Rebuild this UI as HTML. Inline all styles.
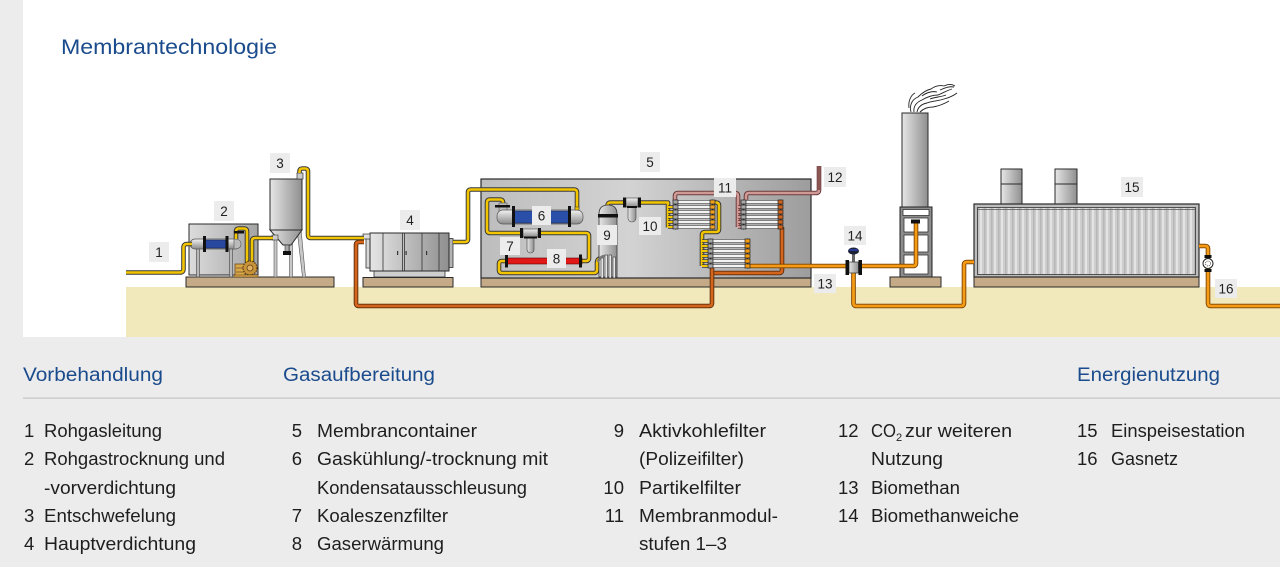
<!DOCTYPE html>
<html><head><meta charset="utf-8">
<style>
html,body{margin:0;padding:0;background:#ececec;}
svg{display:block;}
text{font-family:"Liberation Sans",sans-serif;}
.po{fill:none;stroke:#3a3a3a;stroke-width:4.6;stroke-linejoin:round}
.py{fill:none;stroke:#f2c500;stroke-width:2.6;stroke-linejoin:round}
.pp{fill:none;stroke:#cf9a96;stroke-width:2.6;stroke-linejoin:round}
.ppo{fill:none;stroke:#6b3c3c;stroke-width:4.6;stroke-linejoin:round}
.oo{fill:none;stroke:#7a4200;stroke-width:4.6;stroke-linejoin:round}
.of{fill:none;stroke:#f59b15;stroke-width:2.8;stroke-linejoin:round}
.do{fill:none;stroke:#5a2a08;stroke-width:4.6;stroke-linejoin:round}
.df{fill:none;stroke:#d4651c;stroke-width:2.8;stroke-linejoin:round}
.so{fill:none;stroke:#3a3a3a;stroke-width:3.6}
.sy{fill:none;stroke:#f2c500;stroke-width:2}
.spo{fill:none;stroke:#6b3c3c;stroke-width:3.6}
.spf{fill:none;stroke:#cf9a96;stroke-width:2}
.base{fill:#c4aa87;stroke:#2a2a2a;stroke-width:1}
.lb{fill:#ececec}
.lt{font-size:13.5px;fill:#222;text-anchor:middle}
.h{font-size:19px;fill:#1a4b8c}
.t{font-size:18.5px;fill:#1e1e1e}
.e{text-anchor:end}
</style></head><body>
<svg width="1280" height="567" viewBox="0 0 1280 567" xmlns="http://www.w3.org/2000/svg">
<defs>
 <linearGradient id="gh" x1="0" y1="0" x2="1" y2="0"><stop offset="0" stop-color="#e6e6e6"/><stop offset="1" stop-color="#8f8f8f"/></linearGradient>
 <linearGradient id="gb" x1="0" y1="0" x2="1" y2="0"><stop offset="0" stop-color="#dcdcdc"/><stop offset="1" stop-color="#a4a4a4"/></linearGradient>
 <linearGradient id="gc" x1="0" y1="0" x2="1" y2="0"><stop offset="0" stop-color="#bdbdbd"/><stop offset=".45" stop-color="#d3d3d3"/><stop offset="1" stop-color="#9d9d9d"/></linearGradient>
 <linearGradient id="gv" x1="0" y1="0" x2="0" y2="1"><stop offset="0" stop-color="#f2f2f2"/><stop offset="1" stop-color="#8a8a8a"/></linearGradient>
 <pattern id="corr" width="7" height="10" patternUnits="userSpaceOnUse"><rect width="7" height="10" fill="#cdcdcd"/><rect x="0" width="2" height="10" fill="#e4e4e4"/><rect x="4" width="1.5" height="10" fill="#b6b6b6"/></pattern>
 <g id="mod">
  <rect x="4" y="-1.7" width="34" height="3.4" fill="#f4f4f4" stroke="#333" stroke-width=".6"/>
  <rect x="4" y="3.3" width="34" height="3.4" fill="#f4f4f4" stroke="#333" stroke-width=".6"/>
  <rect x="4" y="8.3" width="34" height="3.4" fill="#f4f4f4" stroke="#333" stroke-width=".6"/>
  <rect x="4" y="13.3" width="34" height="3.4" fill="#f4f4f4" stroke="#333" stroke-width=".6"/>
  <rect x="4" y="18.3" width="34" height="3.4" fill="#f4f4f4" stroke="#333" stroke-width=".6"/>
  <rect x="4" y="23.3" width="34" height="3.4" fill="#f4f4f4" stroke="#333" stroke-width=".6"/>
  <line x1="2.5" y1="-2.5" x2="2.5" y2="27.5" stroke="#222" stroke-width="1"/>
  <line x1="39.5" y1="-2.5" x2="39.5" y2="27.5" stroke="#222" stroke-width="1"/>
  <rect x="0" y="-2" width="5" height="4" fill="#a8a8a8" stroke="#222" stroke-width=".7"/>
  <rect x="0" y="3" width="5" height="4" fill="#a8a8a8" stroke="#222" stroke-width=".7"/>
  <rect x="0" y="8" width="5" height="4" fill="#a8a8a8" stroke="#222" stroke-width=".7"/>
  <rect x="0" y="13" width="5" height="4" fill="#a8a8a8" stroke="#222" stroke-width=".7"/>
  <rect x="0" y="18" width="5" height="4" fill="#a8a8a8" stroke="#222" stroke-width=".7"/>
  <rect x="0" y="23" width="5" height="4" fill="#a8a8a8" stroke="#222" stroke-width=".7"/>
  <rect x="37" y="-2" width="5" height="4" fill="currentColor" stroke="#222" stroke-width=".7"/>
  <rect x="37" y="3" width="5" height="4" fill="currentColor" stroke="#222" stroke-width=".7"/>
  <rect x="37" y="8" width="5" height="4" fill="currentColor" stroke="#222" stroke-width=".7"/>
  <rect x="37" y="13" width="5" height="4" fill="currentColor" stroke="#222" stroke-width=".7"/>
  <rect x="37" y="18" width="5" height="4" fill="currentColor" stroke="#222" stroke-width=".7"/>
  <rect x="37" y="23" width="5" height="4" fill="currentColor" stroke="#222" stroke-width=".7"/>
 </g>
</defs>

<!-- backgrounds -->
<rect width="1280" height="567" fill="#ececec"/>
<rect x="23" y="0" width="1257" height="337" fill="#ffffff"/>
<rect x="126" y="287" width="1154" height="50" fill="#f1e9bb"/>

<text x="61" y="54" font-size="21" fill="#1a4b8c" textLength="216" lengthAdjust="spacingAndGlyphs">Membrantechnologie</text>

<!-- bases -->
<rect class="base" x="186" y="277" width="148" height="10"/>
<rect class="base" x="363" y="277.5" width="90" height="9.5"/>
<rect class="base" x="481" y="278" width="330" height="9"/>
<rect class="base" x="890" y="277" width="51" height="10"/>
<rect class="base" x="974" y="277" width="225" height="10"/>

<!-- item 2 -->
<rect x="189" y="224" width="69" height="51" fill="url(#gb)" stroke="#2a2a2a" stroke-width="1"/>
<rect x="196.5" y="248" width="3" height="29" fill="#b8b8b8" stroke="#444" stroke-width=".6"/>
<rect x="229.5" y="248" width="3" height="29" fill="#b8b8b8" stroke="#444" stroke-width=".6"/>
<rect x="190" y="239" width="50" height="10" rx="5" fill="url(#gv)" stroke="#555" stroke-width=".7"/>
<path d="M234,239 Q241,239 241,244 Q241,249 234,249 Z" fill="#bbb" stroke="#555" stroke-width=".6"/>
<rect x="205" y="240" width="22" height="8" fill="#2848a0" stroke="#1a2a5a" stroke-width=".6"/>
<rect x="203" y="236" width="3" height="16" fill="#111"/>
<rect x="225.5" y="236" width="3" height="16" fill="#111"/>

<!-- item 3 silo -->
<rect x="274" y="229" width="3" height="48" fill="#c8c8c8" stroke="#555" stroke-width=".6"/>
<rect x="289.5" y="240" width="3" height="37" fill="#c8c8c8" stroke="#555" stroke-width=".6"/>
<path d="M297,229 L301,229 L305.5,277 L302.5,277 Z" fill="#c8c8c8" stroke="#555" stroke-width=".6"/>
<rect x="270" y="179" width="32" height="51" fill="url(#gh)" stroke="#2a2a2a" stroke-width="1"/>
<path d="M270,230 L302,230 L291,245 L283,245 Z" fill="url(#gh)" stroke="#2a2a2a" stroke-width="1"/>
<rect x="285" y="245" width="4" height="7" fill="#aaa" stroke="#333" stroke-width=".6"/>
<rect x="283" y="251" width="8" height="4" fill="#111"/>
<rect x="297" y="173" width="6" height="6" fill="#ccc" stroke="#333" stroke-width=".7"/>
<rect x="272" y="235" width="6" height="5" fill="#ccc" stroke="#333" stroke-width=".6"/>

<!-- item 4 -->
<rect x="374" y="271" width="71" height="6" fill="#cfcfcf" stroke="#333" stroke-width=".8"/>
<rect x="366" y="236" width="4" height="32" fill="#d8d8d8" stroke="#333" stroke-width=".8"/>
<rect x="449" y="238.5" width="4" height="29" fill="#b4b4b4" stroke="#333" stroke-width=".8"/>
<rect x="370" y="233" width="79" height="38" fill="url(#gh)" stroke="#2a2a2a" stroke-width="1"/>
<rect x="363" y="234" width="7" height="5" fill="#ddd" stroke="#333" stroke-width=".7"/>
<g stroke="#333" stroke-width=".8">
<line x1="383" y1="233" x2="383" y2="271"/><line x1="402.5" y1="233" x2="402.5" y2="271"/><line x1="404.5" y1="233" x2="404.5" y2="271"/><line x1="422" y1="233" x2="422" y2="271"/><line x1="439" y1="233" x2="439" y2="271"/>
</g>
<g fill="#333"><rect x="397" y="251" width="1.2" height="4"/><rect x="405.5" y="251" width="1.2" height="4"/><rect x="426" y="251" width="1.2" height="4"/></g>

<!-- container 5 -->
<rect x="481" y="179" width="330" height="99" fill="url(#gc)" stroke="#2a2a2a" stroke-width="1.2"/>

<!-- chimney -->
<rect x="902" y="113" width="26" height="95" fill="url(#gh)" stroke="#2a2a2a" stroke-width="1"/>
<rect x="900" y="207" width="32" height="70" fill="#8c8c8c" stroke="#222" stroke-width="1"/>
<rect x="903" y="209.5" width="26" height="6" fill="#fff" stroke="#333" stroke-width=".8"/>
<rect x="904" y="218" width="24" height="14" fill="#fff" stroke="#333" stroke-width=".8"/>
<rect x="904" y="235" width="24" height="17" fill="#fff" stroke="#333" stroke-width=".8"/>
<rect x="904" y="255" width="24" height="19" fill="#fff" stroke="#333" stroke-width=".8"/>
<g fill="none" stroke="#222" stroke-width="0.9">
<path d="M911,112 C909,104 913,99 918,97 C922,93 926,90 931,89 C935,86 940,85 944,86"/>
<path d="M914,112 C913,106 917,102 922,100 C927,97 932,95 938,95 C943,93 948,90 952,89"/>
<path d="M917,112 C918,107 922,104 927,103 C932,101 938,101 944,99 C948,98 953,96 957,93"/>
<path d="M920,112 C923,109 928,107 933,107 C939,106 944,104 949,101"/>
<path d="M922,96 C927,92 933,91 937,92 M930,99 C935,97 941,97 946,95 M940,90 C945,88 949,86 954,87"/>
<path d="M909,108 C908,101 911,95 915,93 M944,86 C948,84 952,84 955,86"/>
</g>

<!-- container 15 -->
<rect x="1001" y="169" width="21" height="35" fill="url(#gh)" stroke="#2a2a2a" stroke-width="1"/>
<line x1="1001" y1="184" x2="1022" y2="184" stroke="#2a2a2a" stroke-width=".9"/>
<rect x="1055" y="169" width="22" height="35" fill="url(#gh)" stroke="#2a2a2a" stroke-width="1"/>
<line x1="1055" y1="184" x2="1077" y2="184" stroke="#2a2a2a" stroke-width=".9"/>
<rect x="974" y="204" width="225" height="73" fill="#bdbdbd" stroke="#2a2a2a" stroke-width="1.2"/>
<rect x="977.5" y="207.5" width="218" height="67" fill="url(#corr)" stroke="#333" stroke-width=".8"/>
<line x1="977" y1="209.5" x2="1196" y2="209.5" stroke="#555" stroke-width=".8"/>

<!-- pipes: yellow -->
<g>
<path class="po" d="M126,272.5 H180 Q183.5,272.5 183.5,269 V247.5 Q183.5,244 187,244 H192"/>
<path class="py" d="M126,272.5 H180 Q183.5,272.5 183.5,269 V247.5 Q183.5,244 187,244 H192"/>
<path class="po" d="M236,239 V231.5 Q236,228.5 239,228.5 H244 Q247,228.5 247,231.5 V263"/>
<path class="py" d="M236,239 V231.5 Q236,228.5 239,228.5 H244 Q247,228.5 247,231.5 V263"/>
<path class="po" d="M252,263 V241 Q252,238 255,238 H273"/>
<path class="py" d="M252,263 V241 Q252,238 255,238 H273"/>
<path class="po" d="M299.5,173 V171.5 Q299.5,168.5 302.5,168.5 H305 Q308,168.5 308,171.5 V235 Q308,238 311,238 H364"/>
<path class="py" d="M299.5,173 V171.5 Q299.5,168.5 302.5,168.5 H305 Q308,168.5 308,171.5 V235 Q308,238 311,238 H364"/>
<path class="po" d="M453,242 H465 Q468,242 468,239 V192.5 Q468,189.5 471,189.5 H574 Q577,189.5 577,192.5 V209"/>
<path class="py" d="M453,242 H465 Q468,242 468,239 V192.5 Q468,189.5 471,189.5 H574 Q577,189.5 577,192.5 V209"/>
<path class="po" d="M503,206 V202.5 Q503,199.5 500,199.5 H490 Q487,199.5 487,202.5 V230 Q487,233 490,233 H586 Q589,233 589,236 V258 Q589,261 586,261 H582"/>
<path class="py" d="M503,206 V202.5 Q503,199.5 500,199.5 H490 Q487,199.5 487,202.5 V230 Q487,233 490,233 H586 Q589,233 589,236 V258 Q589,261 586,261 H582"/>
<path class="po" d="M506,261 H502 Q499,261 499,264 V270 Q499,273 502,273 H594 Q597,273 597,270 V263 Q597,259 601,258"/>
<path class="py" d="M506,261 H502 Q499,261 499,264 V270 Q499,273 502,273 H594 Q597,273 597,270 V263 Q597,259 601,258"/>
<path class="po" d="M607.5,206 Q607.5,202.5 610.5,202.5 H668 V227.5"/>
<path class="py" d="M607.5,206 Q607.5,202.5 610.5,202.5 H668 V227.5"/>
<path class="so" d="M668,207 H673 M668,212 H673 M668,217 H673 M668,222 H673 M668,227 H673"/>
<path class="sy" d="M668,207 H673 M668,212 H673 M668,217 H673 M668,222 H673 M668,227 H673"/>
<path class="po" d="M714,202.5 H716 Q719,202.5 719,205.5 V229 Q719,232 716,232 H705 Q702,232 702,235 V266"/>
<path class="py" d="M714,202.5 H716 Q719,202.5 719,205.5 V229 Q719,232 716,232 H705 Q702,232 702,235 V266"/>
<path class="so" d="M702,241 H708 M702,246 H708 M702,251 H708 M702,256 H708 M702,261 H708 M702,266 H708"/>
<path class="sy" d="M702,241 H708 M702,246 H708 M702,251 H708 M702,256 H708 M702,261 H708 M702,266 H708"/>
</g>

<!-- pink pipes -->
<path class="ppo" d="M675,201 V196 Q675,193 678,193 H735 Q738,193 738,196 V227"/>
<path class="pp" d="M675,201 V196 Q675,193 678,193 H735 Q738,193 738,196 V227"/>
<path class="spo" d="M738,207 H741 M738,212 H741 M738,217 H741 M738,222 H741 M738,227 H741"/>
<path class="spf" d="M738,207 H741 M738,212 H741 M738,217 H741 M738,222 H741 M738,227 H741"/>
<path class="ppo" d="M746,201 V196 Q746,193 749,193 H816 Q819,193 819,190 V166"/>
<path class="pp" d="M746,201 V196 Q746,193 749,193 H816 Q819,193 819,190 V166"/>
<path d="M819,190 V166" fill="none" stroke="#8d5652" stroke-width="2.6"/>

<!-- dark orange -->
<path class="do" d="M782,227 V270 Q782,273 779,273 H715 Q712,273 712,276 V303 Q712,306 709,306 H359 Q356,306 356,303 V245 Q356,242 359,242 H364"/>
<path class="df" d="M782,227 V270 Q782,273 779,273 H715 Q712,273 712,276 V303 Q712,306 709,306 H359 Q356,306 356,303 V245 Q356,242 359,242 H364"/>
<path class="do" d="M712,266 V275"/><path class="df" d="M712,266 V275"/>

<!-- bright orange -->
<path class="oo" d="M749,266 H913 Q916,266 916,263 V223"/>
<path class="of" d="M749,266 H913 Q916,266 916,263 V223"/>
<path class="oo" d="M853.5,272 V303 Q853.5,306 856.5,306 H961 Q964,306 964,303 V265 Q964,262 967,262 H974"/>
<path class="of" d="M853.5,272 V303 Q853.5,306 856.5,306 H961 Q964,306 964,303 V265 Q964,262 967,262 H974"/>
<path class="oo" d="M1199,246 H1205 Q1208,246 1208,249 V303 Q1208,306 1211,306 H1280"/>
<path class="of" d="M1199,246 H1205 Q1208,246 1208,249 V303 Q1208,306 1211,306 H1280"/>
<rect x="911" y="219.5" width="9" height="4" fill="#111"/>

<!-- membrane modules -->
<use href="#mod" x="673" y="202" color="#f0a020"/>
<use href="#mod" x="741" y="202" color="#d0621b"/>
<use href="#mod" x="708" y="241" color="#f39c12"/>

<!-- item 2 gear / details -->
<rect x="234" y="231" width="10" height="2.5" fill="#111"/>
<rect x="235" y="264" width="10" height="12" fill="#d9a84a" stroke="#5a3a10" stroke-width=".7"/>
<line x1="236" y1="268" x2="244" y2="268" stroke="#5a3a10" stroke-width=".6"/>
<line x1="236" y1="272" x2="244" y2="272" stroke="#5a3a10" stroke-width=".6"/>
<circle cx="250" cy="268" r="7" fill="#c8943a" stroke="#5a3a10" stroke-width="1.2" stroke-dasharray="1.5 1"/>
<circle cx="250" cy="268" r="3" fill="#e0b060" stroke="#5a3a10" stroke-width=".7"/>
<rect x="234" y="275" width="24" height="2" fill="#d9a84a" stroke="#5a3a10" stroke-width=".5"/>

<!-- cooler 6 -->
<rect x="499" y="203" width="8" height="9" fill="#bbb" stroke="#555" stroke-width=".6"/>
<rect x="495" y="205" width="15" height="2.5" fill="#111"/>
<rect x="497" y="210" width="86" height="14" rx="6" fill="url(#gv)" stroke="#555" stroke-width=".7"/>
<rect x="514" y="211" width="55" height="12" fill="#2a4fa8" stroke="#1a2a5a" stroke-width=".6"/>
<rect x="512" y="206" width="3" height="21" fill="#111"/>
<rect x="568" y="206" width="3" height="21" fill="#111"/>
<rect x="575" y="207" width="4" height="3" fill="#f2c500" stroke="#333" stroke-width=".5"/>

<!-- filter 7 -->
<rect x="527" y="235" width="7" height="18" rx="3.5" fill="url(#gh)" stroke="#444" stroke-width=".6"/>
<rect x="523" y="229" width="15" height="8" fill="url(#gv)" stroke="#444" stroke-width=".6"/>
<rect x="520" y="228" width="3" height="10" fill="#111"/>
<rect x="538" y="228" width="3" height="10" fill="#111"/>
<rect x="524" y="236.5" width="13" height="2" fill="#111"/>

<!-- heater 8 -->
<rect x="506" y="258" width="76" height="6" fill="#e01818" stroke="#600" stroke-width=".6"/>
<rect x="505" y="254.5" width="3" height="13" fill="#111"/>
<rect x="579" y="254.5" width="3" height="13" fill="#111"/>

<!-- filter 9 -->
<path d="M599,277 V214 Q599,205 608,205 Q617,205 617,214 V277 Z" fill="url(#gh)" stroke="#333" stroke-width=".8"/>
<rect x="598" y="214" width="20" height="3.5" fill="#111"/>
<g fill="#e8e8e8" stroke="#333" stroke-width=".6">
<rect x="601" y="258" width="2.5" height="20"/><rect x="605" y="255" width="2.5" height="23"/><rect x="609" y="255" width="2.5" height="23"/><rect x="613" y="257" width="2.5" height="21"/>
</g>
<path d="M598,262 Q600,256 605,256" fill="none" stroke="#777" stroke-width="2.5"/>

<!-- filter 10 -->
<rect x="628" y="205" width="8" height="17" rx="4" fill="url(#gh)" stroke="#444" stroke-width=".6"/>
<rect x="626" y="198" width="12" height="9" fill="url(#gv)" stroke="#444" stroke-width=".6"/>
<rect x="623" y="197.5" width="3" height="10" fill="#111"/>
<rect x="638" y="197.5" width="3" height="10" fill="#111"/>
<rect x="627" y="206" width="10" height="2" fill="#111"/>

<!-- valve 14 -->
<rect x="852" y="254" width="3" height="8" fill="#666"/>
<ellipse cx="853.5" cy="251" rx="5.5" ry="3.5" fill="#1c2236"/>
<rect x="849.5" y="249" width="8" height="2" fill="#2a3a9a"/>
<rect x="849" y="262" width="9.5" height="11" fill="url(#gh)" stroke="#333" stroke-width=".7"/>
<rect x="845.5" y="260" width="3.5" height="15" fill="#111"/>
<rect x="858.5" y="260" width="3.5" height="15" fill="#111"/>

<!-- meter 16 -->
<rect x="1204.5" y="255" width="7" height="3" fill="#111"/>
<rect x="1204.5" y="269" width="7" height="3" fill="#111"/>
<circle cx="1208" cy="263.5" r="5" fill="#fff" stroke="#222" stroke-width="1"/>
<circle cx="1208" cy="263.5" r="2.5" fill="none" stroke="#222" stroke-width=".7" stroke-dasharray="1 1"/>

<!-- labels -->
<rect class="lb" x="149" y="242" width="20" height="20"/><text class="lt" x="159" y="257">1</text>
<rect class="lb" x="214" y="201" width="20" height="20"/><text class="lt" x="224" y="216">2</text>
<rect class="lb" x="270" y="153" width="20" height="20"/><text class="lt" x="280" y="168">3</text>
<rect class="lb" x="400" y="210" width="20" height="20"/><text class="lt" x="410" y="225">4</text>
<rect class="lb" x="640" y="152" width="20" height="20"/><text class="lt" x="650" y="167">5</text>
<rect class="lb" x="532" y="206" width="19" height="19"/><text class="lt" x="541.5" y="220.5">6</text>
<rect class="lb" x="500" y="237" width="20" height="18"/><text class="lt" x="510" y="251">7</text>
<rect class="lb" x="547" y="249" width="19" height="19"/><text class="lt" x="556.5" y="263.5">8</text>
<rect class="lb" x="597" y="225" width="20" height="20"/><text class="lt" x="607" y="240">9</text>
<rect class="lb" x="639" y="217" width="22" height="18"/><text class="lt" x="650" y="231">10</text>
<rect class="lb" x="714" y="178" width="22" height="19"/><text class="lt" x="725" y="192.5">11</text>
<rect class="lb" x="824" y="167" width="22" height="20"/><text class="lt" x="835" y="182">12</text>
<rect class="lb" x="814" y="274" width="22" height="19"/><text class="lt" x="825" y="288.5">13</text>
<rect class="lb" x="844" y="226" width="22" height="19"/><text class="lt" x="855" y="240.5">14</text>
<rect class="lb" x="1121" y="177" width="22" height="20"/><text class="lt" x="1132" y="192">15</text>
<rect class="lb" x="1215" y="279" width="22" height="19"/><text class="lt" x="1226" y="293.5">16</text>

<!-- legend -->
<text class="h" x="23" y="381" textLength="140" lengthAdjust="spacingAndGlyphs">Vorbehandlung</text>
<text class="h" x="283" y="381" textLength="152" lengthAdjust="spacingAndGlyphs">Gasaufbereitung</text>
<text class="h" x="1077" y="381" textLength="143" lengthAdjust="spacingAndGlyphs">Energienutzung</text>
<rect x="23" y="397.5" width="1257" height="1.2" fill="#c4c4c4"/>

<g class="t">
<text class="t" x="24" y="437">1</text><text class="t" x="44" y="437" textLength="118" lengthAdjust="spacingAndGlyphs">Rohgasleitung</text>
<text class="t" x="24" y="465">2</text><text class="t" x="44" y="465" textLength="181" lengthAdjust="spacingAndGlyphs">Rohgastrocknung und</text>
<text class="t" x="44" y="494" textLength="132" lengthAdjust="spacingAndGlyphs">-vorverdichtung</text>
<text class="t" x="24" y="522">3</text><text class="t" x="44" y="522" textLength="132" lengthAdjust="spacingAndGlyphs">Entschwefelung</text>
<text class="t" x="24" y="550">4</text><text class="t" x="44" y="550" textLength="152" lengthAdjust="spacingAndGlyphs">Hauptverdichtung</text>

<text class="t e" x="302" y="437">5</text><text class="t" x="317" y="437" textLength="160" lengthAdjust="spacingAndGlyphs">Membrancontainer</text>
<text class="t e" x="302" y="465">6</text><text class="t" x="317" y="465" textLength="231" lengthAdjust="spacingAndGlyphs">Gaskühlung/-trocknung mit</text>
<text class="t" x="317" y="494" textLength="210" lengthAdjust="spacingAndGlyphs">Kondensatausschleusung</text>
<text class="t e" x="302" y="522">7</text><text class="t" x="317" y="522" textLength="131" lengthAdjust="spacingAndGlyphs">Koaleszenzfilter</text>
<text class="t e" x="302" y="550">8</text><text class="t" x="317" y="550" textLength="127" lengthAdjust="spacingAndGlyphs">Gaserwärmung</text>

<text class="t e" x="624" y="437">9</text><text class="t" x="639" y="437" textLength="127" lengthAdjust="spacingAndGlyphs">Aktivkohlefilter</text>
<text class="t" x="639" y="465" textLength="105" lengthAdjust="spacingAndGlyphs">(Polizeifilter)</text>
<text class="t e" x="624" y="494">10</text><text class="t" x="639" y="494" textLength="102" lengthAdjust="spacingAndGlyphs">Partikelfilter</text>
<text class="t e" x="624" y="522">11</text><text class="t" x="639" y="522" textLength="139" lengthAdjust="spacingAndGlyphs">Membranmodul-</text>
<text class="t" x="639" y="550" textLength="88" lengthAdjust="spacingAndGlyphs">stufen 1–3</text>

<text class="t" x="838" y="437">12</text><text class="t" x="871" y="437" textLength="25" lengthAdjust="spacingAndGlyphs">CO</text><text x="896" y="441" font-size="11" fill="#1e1e1e">2</text><text class="t" x="905" y="437" textLength="107" lengthAdjust="spacingAndGlyphs">zur weiteren</text>
<text class="t" x="871" y="465" textLength="72" lengthAdjust="spacingAndGlyphs">Nutzung</text>
<text class="t" x="838" y="494">13</text><text class="t" x="871" y="494" textLength="89" lengthAdjust="spacingAndGlyphs">Biomethan</text>
<text class="t" x="838" y="522">14</text><text class="t" x="871" y="522" textLength="148" lengthAdjust="spacingAndGlyphs">Biomethanweiche</text>

<text class="t" x="1077" y="437">15</text><text class="t" x="1111" y="437" textLength="134" lengthAdjust="spacingAndGlyphs">Einspeisestation</text>
<text class="t" x="1077" y="465">16</text><text class="t" x="1111" y="465" textLength="67" lengthAdjust="spacingAndGlyphs">Gasnetz</text>
</g>
</svg>
</body></html>
